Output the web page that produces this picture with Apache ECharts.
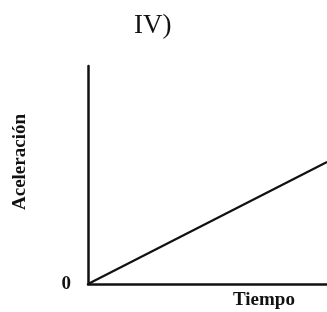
<!DOCTYPE html>
<html>
<head>
<meta charset="utf-8">
<script src="https://cdn.jsdelivr.net/npm/echarts@6/dist/echarts.min.js"></script>
<style>
  html, body { margin: 0; padding: 0; background: #fff; }
  #chart { width: 327px; height: 312px; }
</style>
</head>
<body>
<div id="chart"></div>
<script>
// datos (unidades arbitrarias)
var tiempo = [0, 10];
var aceleracion = [0, 5.6];
var yTicks = ['0'];

var chart = echarts.init(document.getElementById('chart'));

var serie = [];
for (var i = 0; i < tiempo.length; i++) {
  serie.push([tiempo[i], aceleracion[i]]);
}

var fuente = '"Liberation Serif", "DejaVu Serif", serif';

var option = {
  animation: false,
  backgroundColor: '#fff',
  title: {
    text: 'IV)',
    left: 129,
    top: 7,
    textStyle: { fontFamily: fuente, fontSize: 27, fontWeight: 'normal', color: '#111' }
  },
  grid: { left: 88, right: 0, top: 66, bottom: 28 },
  xAxis: {
    type: 'value',
    min: 0,
    max: 10,
    name: 'Tiempo',
    nameLocation: 'end',
    nameGap: -94,
    nameTextStyle: {
      fontFamily: fuente, fontSize: 19, fontWeight: 'bold', color: '#111',
      verticalAlign: 'top', padding: [7, 0, 0, 0]
    },
    axisLine: { lineStyle: { color: '#111', width: 2.5 } },
    axisTick: { show: false },
    axisLabel: { show: false },
    splitLine: { show: false }
  },
  yAxis: {
    type: 'value',
    min: 0,
    max: 10,
    interval: 10,
    name: 'Aceleración',
    nameLocation: 'middle',
    nameGap: 58,
    nameTextStyle: {
      fontFamily: fuente, fontSize: 19, fontWeight: 'bold', color: '#111',
      padding: [0, 0, 0, 26]
    },
    axisLine: { show: true, lineStyle: { color: '#111', width: 2.5 } },
    axisTick: { show: false },
    axisLabel: {
      margin: 17,
      fontFamily: fuente, fontSize: 19, fontWeight: 'bold', color: '#111',
      formatter: function (v) { return v === 0 ? yTicks[0] : ''; }
    },
    splitLine: { show: false }
  },
  series: [{
    type: 'line',
    data: serie,
    symbol: 'none',
    lineStyle: { color: '#111', width: 2.2 }
  }]
};

chart.setOption(option);
</script>
</body>
</html>
